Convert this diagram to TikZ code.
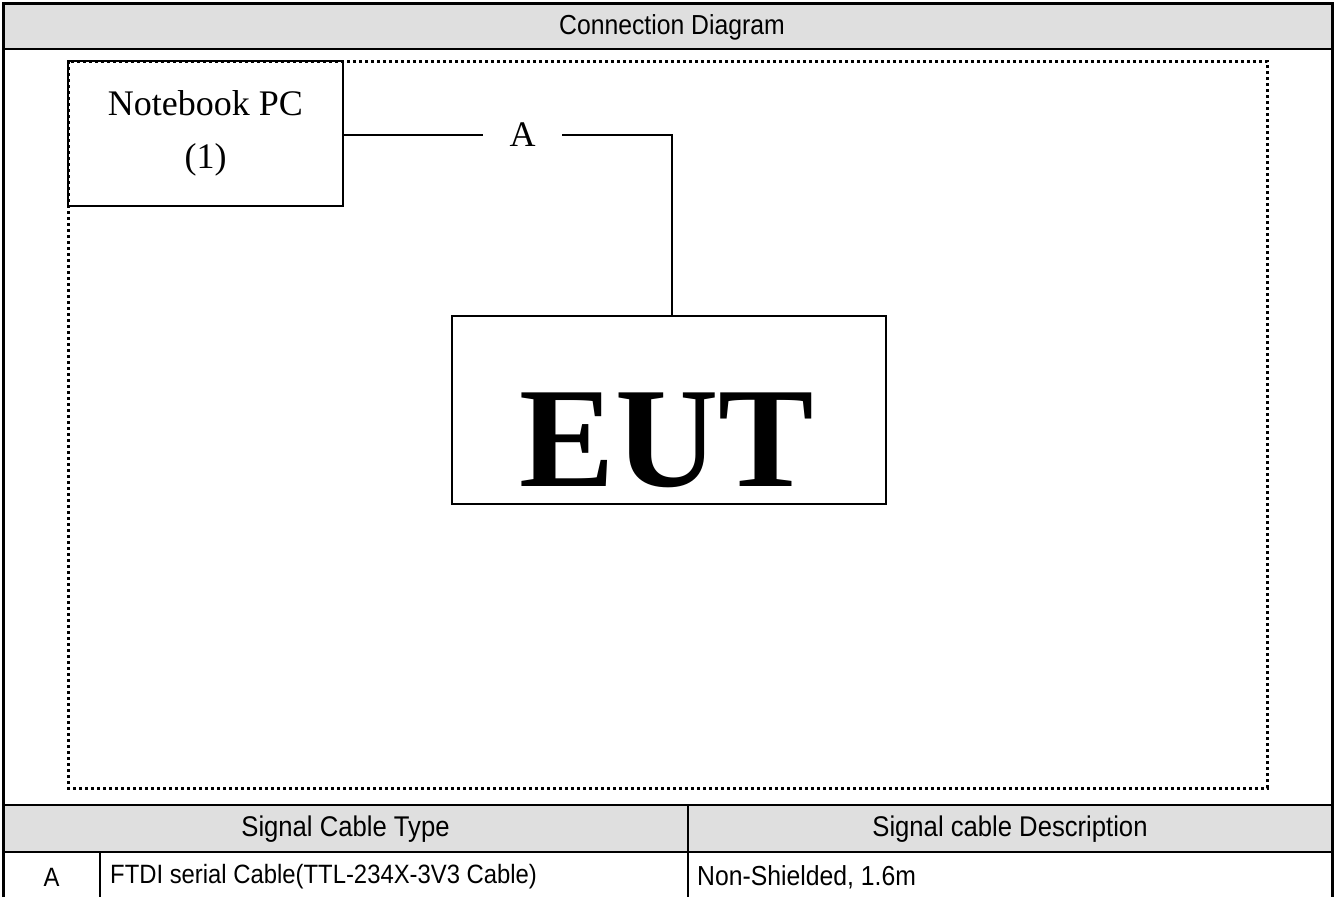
\documentclass[tikz,border=0pt]{standalone}
\usepackage{fontspec}
\setmainfont{Liberation Serif}
\setsansfont{Liberation Sans}
\newfontfamily\tablesans[FakeStretch=0.9]{Liberation Sans}
\definecolor{hdrgray}{HTML}{DFDFDF}
\tikzset{
  frameline/.style={line width=3pt},
  rule/.style={line width=2.5pt},
  boxline/.style={draw, line width=1.5pt},
  wire/.style={line width=1.5pt},
  dotframe/.style={line width=3pt, dash pattern=on 3pt off 3pt},
  titletext/.style={font=\tablesans\fontsize{27.5}{30}\selectfont, inner sep=0pt},
  headtext/.style={font=\tablesans\fontsize{28.5}{30}\selectfont, inner sep=0pt},
  celltext/.style={font=\tablesans\fontsize{26.5}{30}\selectfont, inner sep=0pt},
  serftext/.style={font=\rmfamily\fontsize{36}{40}\selectfont, inner sep=0pt},
}
\begin{document}
\begin{tikzpicture}[x=1pt,y=-1pt]
\useasboundingbox (0,0) rectangle (1336,897);
% header fills
\fill[hdrgray] (3,3) rectangle (1332,49);
\fill[hdrgray] (3,805) rectangle (1332,852);
% rules
\draw[rule] (3,49) -- (1332,49);
\draw[rule] (3,805) -- (1332,805);
\draw[rule] (3,852) -- (1332,852);
\draw[rule] (688,805) -- (688,897);
\draw[rule] (100,852) -- (100,897);
% outer frame
\draw[frameline] (3,897) -- (3,3) -- (1332,3) -- (1332,897);
% texts of the table
\node[titletext] (title) at (672,27) {Connection Diagram};
\node[headtext] (h1) at (345.5,829) {Signal Cable Type};
\node[headtext] (h2) at (1010,829) {Signal cable Description};
\node[celltext] (c0) at (51.5,877) {A};
\node[celltext, anchor=west] (c1) at (110,877) {FTDI serial Cable(TTL-234X-3V3 Cable)};
\node[celltext, anchor=west, font=\tablesans\fontsize{27.5}{30}\selectfont] (c2) at (697,877) {Non-Shielded, 1.6m};
% dotted frame
\draw[dotframe] (68,61) rectangle (1267,788);
% notebook
\node[boxline, minimum width=275pt, minimum height=145pt, inner sep=0pt] (nb) at (205.5,133.5) {};
\node[serftext] (nbt1) at (205.5,103) {Notebook PC};
\node[serftext] (nbt2) at (205.5,160) {(1)};
% EUT
\node[boxline, minimum width=434pt, minimum height=188pt, inner sep=0pt] (eut) at (669,410) {};
\node[font=\rmfamily\bfseries\fontsize{143}{150}\selectfont, inner sep=0pt] (eutt) at (667,440) {EUT};
% cable A
\node[serftext, minimum width=79pt] (lblA) at (522.5,135) {A};
\coordinate (bend) at (672,135);
\draw[wire] (nb.east |- lblA.west) -- (lblA.west);
\draw[wire] (lblA.east) -- (bend) -- (bend |- eut.north);
\end{tikzpicture}
\end{document}
